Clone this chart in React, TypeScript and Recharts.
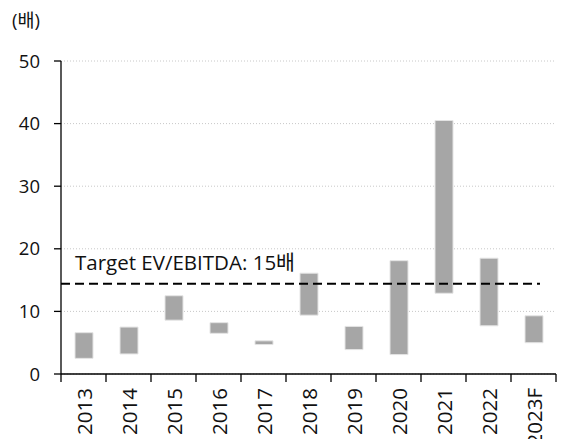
import React from "react";
import {
  ComposedChart,
  Bar,
  XAxis,
  YAxis,
  CartesianGrid,
  ReferenceLine,
} from "recharts";

const YEARS = ["2013", "2014", "2015", "2016", "2017", "2018", "2019", "2020", "2021", "2022", "2023F"];
const LOWS = [2.5, 3.2, 8.6, 6.5, 4.7, 9.4, 3.9, 3.1, 12.9, 7.7, 5.0];
const HIGHS = [6.6, 7.5, 12.5, 8.2, 5.3, 16.1, 7.6, 18.1, 40.5, 18.5, 9.3];
const Y_TICKS = [0, 10, 20, 30, 40, 50];
const TARGET = 14.4;
const TARGET_LABEL = "Target EV/EBITDA: 15배";
const UNIT = "(배)";

const FONT = "'Open Sans', 'Noto Sans CJK KR', sans-serif";
const W = 561;
const H = 439;
const PLOT_W = W - 61 - 5;
const BAND = PLOT_W / YEARS.length;

const data = YEARS.map((year, i) => ({ year, range: [LOWS[i], HIGHS[i]] }));

// category labels turned upright, ticks sit on the band edges
const XTick = (props: any) => {
  const { x, y, payload, index } = props;
  const half = payload?.offset || BAND / 2;
  const last = index === YEARS.length - 1;
  return (
    <g>
      <line x1={x - half} y1={y} x2={x - half} y2={y + 8} stroke="#000" strokeWidth={1.3} />
      {last && <line x1={x + half} y1={y} x2={x + half} y2={y + 8} stroke="#000" strokeWidth={1.3} />}
      <text
        x={x}
        y={y + 14}
        transform={`rotate(-90, ${x}, ${y + 14})`}
        textAnchor="end"
        dominantBaseline="central"
        fontSize={20.5}
        fill="#111"
        fontFamily={FONT}
      >
        {payload.value}
      </text>
    </g>
  );
};

export default function App() {
  return (
    <div style={{ position: "absolute", left: 0, top: 0, width: W, height: H, background: "#fff" }}>
      <div
        style={{
          position: "absolute",
          left: 12,
          top: 6,
          fontSize: 18.5,
          fontFamily: FONT,
          color: "#111",
        }}
      >
        {UNIT}
      </div>
      <ComposedChart
        width={W}
        height={H}
        data={data}
        margin={{ top: 61, right: 5, bottom: 0, left: 0 }}
      >
        <CartesianGrid vertical={false} stroke="#c8c8c8" strokeDasharray="1 2" />
        <XAxis
          dataKey="year"
          height={65}
          interval={0}
          tickSize={0}
          tickMargin={0}
          tickLine={false}
          axisLine={{ stroke: "#000", strokeWidth: 1.3 }}
          tick={<XTick />}
        />
        <YAxis
          width={61}
          domain={[0, 50]}
          ticks={Y_TICKS}
          interval={0}
          tickSize={7}
          tickMargin={14}
          tickLine={{ stroke: "#000", strokeWidth: 1.3 }}
          axisLine={{ stroke: "#000", strokeWidth: 1.3 }}
          tick={{ fill: "#111", fontSize: 18.5, fontFamily: FONT }}
        />
        <Bar
          dataKey="range"
          barSize={18}
          fill="#a6a6a6"
          stroke="#e4e4e4"
          strokeWidth={1}
          isAnimationActive={false}
        />
        <ReferenceLine
          y={TARGET}
          stroke="#000"
          strokeWidth={2}
          strokeDasharray="9 5"
          shape={(p: any) => (
            <line
              x1={p.x1}
              y1={p.y1}
              x2={p.x2 - 16}
              y2={p.y2}
              stroke="#000"
              strokeWidth={2}
              strokeDasharray="9 5"
            />
          )}
          label={{
            value: TARGET_LABEL,
            position: "insideBottomLeft",
            offset: 14,
            fill: "#111",
            fontSize: 20.5,
            fontFamily: FONT,
          }}
        />
      </ComposedChart>
    </div>
  );
}
